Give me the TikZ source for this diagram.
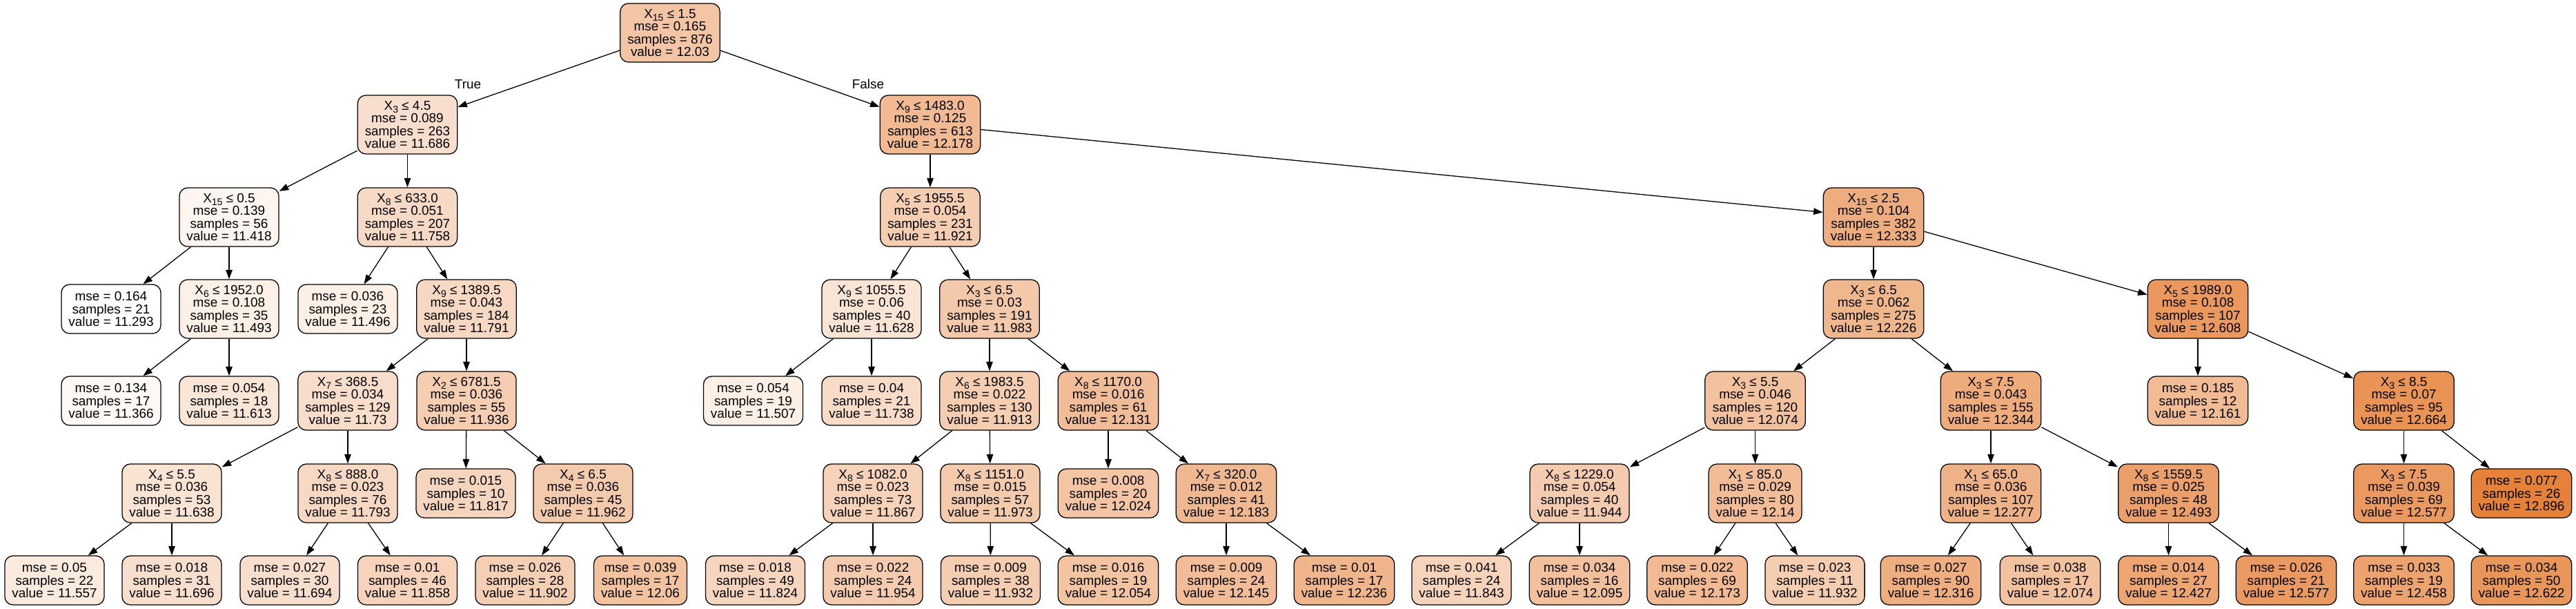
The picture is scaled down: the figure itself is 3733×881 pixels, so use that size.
\documentclass[tikz,border=0pt]{standalone}
\usepackage{fontspec}
\setmainfont{Liberation Sans}
\usetikzlibrary{arrows.meta}
\definecolor{tc}{RGB}{229,129,57}
\newcommand\Xs[1]{X\raisebox{-4.5pt}{\fontsize{14}{14}\selectfont #1}}
\tikzset{
  box/.style={draw=black, line width=1.3pt, rounded corners=12pt, align=center,
    inner xsep=10.5pt, inner ysep=0pt, font=\fontsize{18.9}{18.6}\selectfont},
  inode/.style={box, minimum height=85pt},
  lnode/.style={box, minimum height=71pt},
  fp/.style={fill=tc!#1!white},
  edge/.style={draw=black, line width=1.3pt, -{Triangle[length=13.5pt,width=9.5pt]}},
  lab/.style={font=\fontsize{18.9}{18.6}\selectfont, inner sep=0pt}
}
\begin{document}
\begin{tikzpicture}[x=1pt,y=-1pt]
\useasboundingbox (0,0) rectangle (3733,881);
% level 0
\node[inode,fp=46] (n0) at (971,47.5) {\Xs{15} ≤ 1.5\\mse = 0.165\\samples = 876\\value = 12.03};
% level 1
\node[inode,fp=25] (n1) at (590.5,180.5) {\Xs{3} ≤ 4.5\\mse = 0.089\\samples = 263\\value = 11.686};
\node[inode,fp=55] (n2) at (1348,180.5) {\Xs{9} ≤ 1483.0\\mse = 0.125\\samples = 613\\value = 12.178};
% level 2
\node[inode,fp=8] (n3) at (332,314.5) {\Xs{15} ≤ 0.5\\mse = 0.139\\samples = 56\\value = 11.418};
\node[inode,fp=29] (n4) at (590.5,314.5) {\Xs{8} ≤ 633.0\\mse = 0.051\\samples = 207\\value = 11.758};
\node[inode,fp=39] (n5) at (1348,314.5) {\Xs{5} ≤ 1955.5\\mse = 0.054\\samples = 231\\value = 11.921};
\node[inode,fp=65] (n6) at (2715,314.5) {\Xs{15} ≤ 2.5\\mse = 0.104\\samples = 382\\value = 12.333};
% level 3
\node[lnode,fp=0] (l7) at (161,447.5) {mse = 0.164\\samples = 21\\value = 11.293};
\node[inode,fp=12] (n8) at (332,447.5) {\Xs{6} ≤ 1952.0\\mse = 0.108\\samples = 35\\value = 11.493};
\node[lnode,fp=13] (l9) at (504,447.5) {mse = 0.036\\samples = 23\\value = 11.496};
\node[inode,fp=31] (n10) at (676,447.5) {\Xs{9} ≤ 1389.5\\mse = 0.043\\samples = 184\\value = 11.791};
\node[inode,fp=21] (n11) at (1263,447.5) {\Xs{9} ≤ 1055.5\\mse = 0.06\\samples = 40\\value = 11.628};
\node[inode,fp=43] (n12) at (1434,447.5) {\Xs{3} ≤ 6.5\\mse = 0.03\\samples = 191\\value = 11.983};
\node[inode,fp=58] (n13) at (2715,447.5) {\Xs{3} ≤ 6.5\\mse = 0.062\\samples = 275\\value = 12.226};
\node[inode,fp=82] (n14) at (3185,447.5) {\Xs{5} ≤ 1989.0\\mse = 0.108\\samples = 107\\value = 12.608};
% level 4
\node[lnode,fp=5] (l15) at (161,580.5) {mse = 0.134\\samples = 17\\value = 11.366};
\node[lnode,fp=20] (l16) at (332,580.5) {mse = 0.054\\samples = 18\\value = 11.613};
\node[inode,fp=27] (n17) at (504,580.5) {\Xs{7} ≤ 368.5\\mse = 0.034\\samples = 129\\value = 11.73};
\node[inode,fp=40] (n18) at (676,580.5) {\Xs{2} ≤ 6781.5\\mse = 0.036\\samples = 55\\value = 11.936};
\node[lnode,fp=13] (l19) at (1091.5,580.5) {mse = 0.054\\samples = 19\\value = 11.507};
\node[lnode,fp=28] (l20) at (1263,580.5) {mse = 0.04\\samples = 21\\value = 11.738};
\node[inode,fp=39] (n21) at (1434,580.5) {\Xs{6} ≤ 1983.5\\mse = 0.022\\samples = 130\\value = 11.913};
\node[inode,fp=52] (n22) at (1606,580.5) {\Xs{8} ≤ 1170.0\\mse = 0.016\\samples = 61\\value = 12.131};
\node[inode,fp=49] (n23) at (2543.5,580.5) {\Xs{3} ≤ 5.5\\mse = 0.046\\samples = 120\\value = 12.074};
\node[inode,fp=66] (n24) at (2885,580.5) {\Xs{3} ≤ 7.5\\mse = 0.043\\samples = 155\\value = 12.344};
\node[lnode,fp=54] (l25) at (3185,580.5) {mse = 0.185\\samples = 12\\value = 12.161};
\node[inode,fp=86] (n26) at (3483.5,580.5) {\Xs{3} ≤ 8.5\\mse = 0.07\\samples = 95\\value = 12.664};
% level 5
\node[inode,fp=22] (n27) at (249,714.5) {\Xs{4} ≤ 5.5\\mse = 0.036\\samples = 53\\value = 11.638};
\node[inode,fp=31] (n28) at (504,714.5) {\Xs{8} ≤ 888.0\\mse = 0.023\\samples = 76\\value = 11.793};
\node[lnode,fp=33] (l29) at (675,714.5) {mse = 0.015\\samples = 10\\value = 11.817};
\node[inode,fp=42] (n30) at (845,714.5) {\Xs{4} ≤ 6.5\\mse = 0.036\\samples = 45\\value = 11.962};
\node[inode,fp=36] (n31) at (1265,714.5) {\Xs{8} ≤ 1082.0\\mse = 0.023\\samples = 73\\value = 11.867};
\node[inode,fp=42] (n32) at (1435,714.5) {\Xs{8} ≤ 1151.0\\mse = 0.015\\samples = 57\\value = 11.973};
\node[lnode,fp=46] (l33) at (1606,714.5) {mse = 0.008\\samples = 20\\value = 12.024};
\node[inode,fp=56] (n34) at (1777,714.5) {\Xs{7} ≤ 320.0\\mse = 0.012\\samples = 41\\value = 12.183};
\node[inode,fp=41] (n35) at (2289,714.5) {\Xs{8} ≤ 1229.0\\mse = 0.054\\samples = 40\\value = 11.944};
\node[inode,fp=53] (n36) at (2543.5,714.5) {\Xs{1} ≤ 85.0\\mse = 0.029\\samples = 80\\value = 12.14};
\node[inode,fp=61] (n37) at (2885,714.5) {\Xs{1} ≤ 65.0\\mse = 0.036\\samples = 107\\value = 12.277};
\node[inode,fp=75] (n38) at (3142.5,714.5) {\Xs{8} ≤ 1559.5\\mse = 0.025\\samples = 48\\value = 12.493};
\node[inode,fp=80] (n39) at (3483.5,714.5) {\Xs{3} ≤ 7.5\\mse = 0.039\\samples = 69\\value = 12.577};
\node[lnode,fp=100] (l40) at (3654,714.5) {mse = 0.077\\samples = 26\\value = 12.896};
% level 6
\node[lnode,fp=16] (l41) at (79,840.5) {mse = 0.05\\samples = 22\\value = 11.557};
\node[lnode,fp=25] (l42) at (249,840.5) {mse = 0.018\\samples = 31\\value = 11.696};
\node[lnode,fp=25] (l43) at (420,840.5) {mse = 0.027\\samples = 30\\value = 11.694};
\node[lnode,fp=35] (l44) at (590.5,840.5) {mse = 0.01\\samples = 46\\value = 11.858};
\node[lnode,fp=38] (l45) at (761,840.5) {mse = 0.026\\samples = 28\\value = 11.902};
\node[lnode,fp=48] (l46) at (928,840.5) {mse = 0.039\\samples = 17\\value = 12.06};
\node[lnode,fp=33] (l47) at (1094.5,840.5) {mse = 0.018\\samples = 49\\value = 11.824};
\node[lnode,fp=41] (l48) at (1265,840.5) {mse = 0.022\\samples = 24\\value = 11.954};
\node[lnode,fp=40] (l49) at (1435.5,840.5) {mse = 0.009\\samples = 38\\value = 11.932};
\node[lnode,fp=47] (l50) at (1606,840.5) {mse = 0.016\\samples = 19\\value = 12.054};
\node[lnode,fp=53] (l51) at (1777,840.5) {mse = 0.009\\samples = 24\\value = 12.145};
\node[lnode,fp=59] (l52) at (1948,840.5) {mse = 0.01\\samples = 17\\value = 12.236};
\node[lnode,fp=34] (l53) at (2118,840.5) {mse = 0.041\\samples = 24\\value = 11.843};
\node[lnode,fp=50] (l54) at (2289,840.5) {mse = 0.034\\samples = 16\\value = 12.095};
\node[lnode,fp=55] (l55) at (2459.5,840.5) {mse = 0.022\\samples = 69\\value = 12.173};
\node[lnode,fp=40] (l56) at (2630,840.5) {mse = 0.023\\samples = 11\\value = 11.932};
\node[lnode,fp=64] (l57) at (2798,840.5) {mse = 0.027\\samples = 90\\value = 12.316};
\node[lnode,fp=49] (l58) at (2971,840.5) {mse = 0.038\\samples = 17\\value = 12.074};
\node[lnode,fp=71] (l59) at (3142.5,840.5) {mse = 0.014\\samples = 27\\value = 12.427};
\node[lnode,fp=80] (l60) at (3313,840.5) {mse = 0.026\\samples = 21\\value = 12.577};
\node[lnode,fp=73] (l61) at (3483.5,840.5) {mse = 0.033\\samples = 19\\value = 12.458};
\node[lnode,fp=83] (l62) at (3654,840.5) {mse = 0.034\\samples = 50\\value = 12.622};
% edge labels
\node[lab] (tlab) at (678,122) {True};
\node[lab] (flab) at (1258,122) {False};
% edges
\draw[edge] (n0) -- (n1);
\draw[edge] (n0) -- (n2);
\draw[edge] (n1) -- (n3);
\draw[edge] (n1) -- (n4);
\draw[edge] (n2) -- (n5);
\draw[edge] (n2) -- (n6);
\draw[edge] (n3) -- (l7);
\draw[edge] (n3) -- (n8);
\draw[edge] (n4) -- (l9);
\draw[edge] (n4) -- (n10);
\draw[edge] (n5) -- (n11);
\draw[edge] (n5) -- (n12);
\draw[edge] (n6) -- (n13);
\draw[edge] (n6) -- (n14);
\draw[edge] (n8) -- (l15);
\draw[edge] (n8) -- (l16);
\draw[edge] (n10) -- (n17);
\draw[edge] (n10) -- (n18);
\draw[edge] (n11) -- (l19);
\draw[edge] (n11) -- (l20);
\draw[edge] (n12) -- (n21);
\draw[edge] (n12) -- (n22);
\draw[edge] (n13) -- (n23);
\draw[edge] (n13) -- (n24);
\draw[edge] (n14) -- (l25);
\draw[edge] (n14) -- (n26);
\draw[edge] (n17) -- (n27);
\draw[edge] (n17) -- (n28);
\draw[edge] (n18) -- (l29);
\draw[edge] (n18) -- (n30);
\draw[edge] (n21) -- (n31);
\draw[edge] (n21) -- (n32);
\draw[edge] (n22) -- (l33);
\draw[edge] (n22) -- (n34);
\draw[edge] (n23) -- (n35);
\draw[edge] (n23) -- (n36);
\draw[edge] (n24) -- (n37);
\draw[edge] (n24) -- (n38);
\draw[edge] (n26) -- (n39);
\draw[edge] (n26) -- (l40);
\draw[edge] (n27) -- (l41);
\draw[edge] (n27) -- (l42);
\draw[edge] (n28) -- (l43);
\draw[edge] (n28) -- (l44);
\draw[edge] (n30) -- (l45);
\draw[edge] (n30) -- (l46);
\draw[edge] (n31) -- (l47);
\draw[edge] (n31) -- (l48);
\draw[edge] (n32) -- (l49);
\draw[edge] (n32) -- (l50);
\draw[edge] (n34) -- (l51);
\draw[edge] (n34) -- (l52);
\draw[edge] (n35) -- (l53);
\draw[edge] (n35) -- (l54);
\draw[edge] (n36) -- (l55);
\draw[edge] (n36) -- (l56);
\draw[edge] (n37) -- (l57);
\draw[edge] (n37) -- (l58);
\draw[edge] (n38) -- (l59);
\draw[edge] (n38) -- (l60);
\draw[edge] (n39) -- (l61);
\draw[edge] (n39) -- (l62);
\end{tikzpicture}
\end{document}
